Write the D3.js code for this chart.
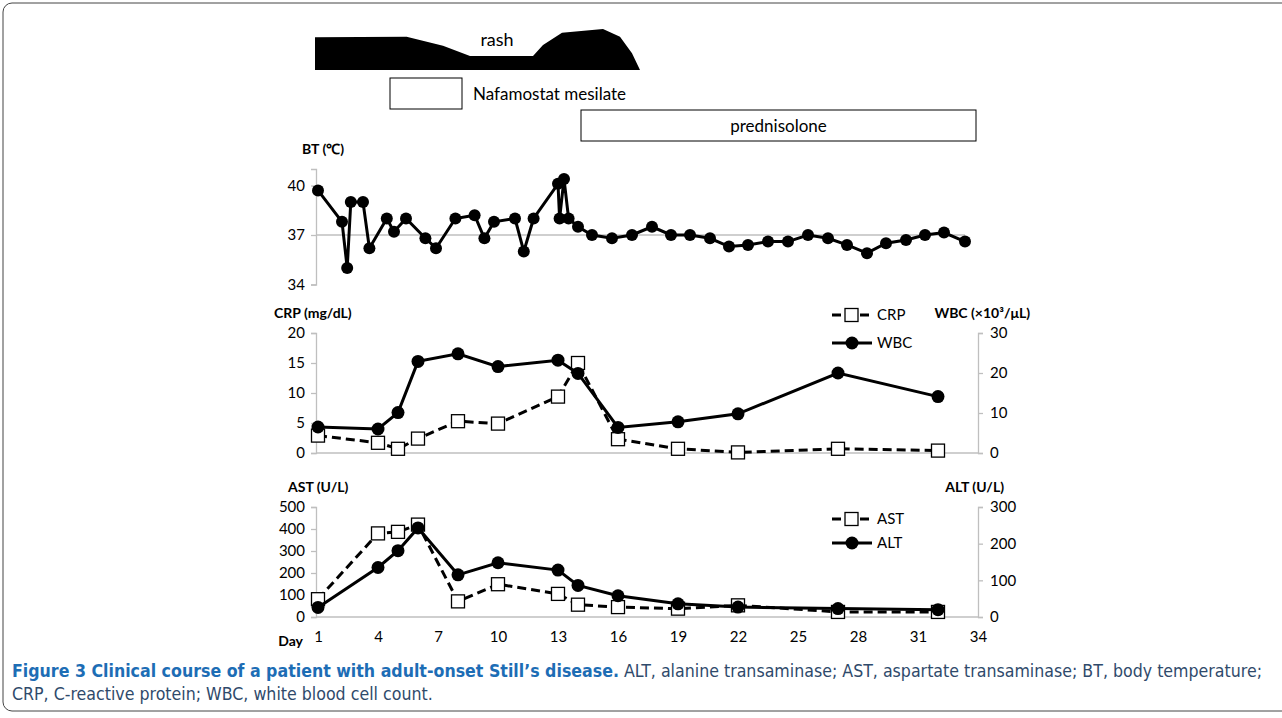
<!DOCTYPE html>
<html>
<head>
<meta charset="utf-8">
<script src="https://cdn.jsdelivr.net/npm/d3@7"></script>
<style>
  body { margin: 0; background: #fff; }
  svg { display: block; font-family: Lato, Carlito, "Open Sans", sans-serif; }
</style>
</head>
<body>
<svg id="chart" width="1282" height="718"></svg>
<script>
// ---- data ----
const dayTicks = [1, 4, 7, 10, 13, 16, 19, 22, 25, 28, 31, 34];

// rash intensity outline (day, relative level 0-10)
const rashDay   = [0.85, 0.85, 5.43, 7.25, 8.6, 11.75, 12.25, 13.2, 15.25, 16.1, 16.7, 17.1];
const rashLevel = [0, 8, 8.1, 5.9, 3.4, 3.4, 6.1, 9.1, 10, 8.1, 4.1, 0];

// treatments
const drugNames = ['Nafamostat mesilate', 'prednisolone'];
const drugStart = [4.6, 14.15];
const drugEnd   = [8.2, 33.9];

// body temperature
const btTicks = [34, 37, 40];
const btDay = [1.0, 2.2, 2.46, 2.64, 3.25, 3.57, 4.44, 4.8, 5.4, 6.37, 6.9, 7.87, 8.83, 9.32, 9.8,
  10.85, 11.29, 11.78, 13.0, 13.08, 13.3, 13.53, 14.0, 14.7, 15.7, 16.7, 17.7, 18.65, 19.6, 20.6,
  21.55, 22.5, 23.5, 24.5, 25.5, 26.5, 27.45, 28.45, 29.4, 30.4, 31.35, 32.3, 33.35];
const btTemp = [39.7, 37.8, 35.0, 39.0, 39.0, 36.2, 38.0, 37.2, 38.0, 36.8, 36.2, 38.0, 38.2, 36.8, 37.8,
  38.0, 36.0, 38.0, 40.1, 38.0, 40.4, 38.0, 37.5, 37.0, 36.8, 37.0, 37.5, 37.0, 37.0, 36.8,
  36.3, 36.4, 36.6, 36.6, 37.0, 36.8, 36.4, 35.9, 36.5, 36.7, 37.0, 37.15, 36.6];

// laboratory values
const labDay = [1, 4, 5, 6, 8, 10, 13, 14, 16, 19, 22, 27, 32];
const crp = [2.9, 1.7, 0.7, 2.4, 5.3, 4.9, 9.4, 15.0, 2.3, 0.7, 0.1, 0.7, 0.4];
const wbc = [6.5, 6.0, 10.1, 22.9, 24.8, 21.6, 23.2, 19.9, 6.4, 7.8, 9.8, 20.0, 14.1];
const ast = [81, 380, 387, 420, 71, 149, 105, 56, 45, 38, 53, 23, 23];
const alt = [26, 135, 181, 243, 115, 148, 128, 86, 58, 36, 27, 23, 20];

const crpTicks = [0, 5, 10, 15, 20];
const wbcTicks = [0, 10, 20, 30];
const astTicks = [0, 100, 200, 300, 400, 500];
const altTicks = [0, 100, 200, 300];

// ---- layout ----
const svg = d3.select('#chart');
const AXIS = '#bfbfbf';
const x = d3.scaleLinear().domain([1, 34]).range([318, 978]);
const xl = x(1) - 2, xr = x(34);

const yRash = d3.scaleLinear().domain([0, 10]).range([70, 29]);
const yBT  = d3.scaleLinear().domain([34, 41]).range([284.5, 169]);
const yCRP = d3.scaleLinear().domain([0, 20]).range([453, 333]);
const yWBC = d3.scaleLinear().domain([0, 30]).range([453, 333]);
const yAST = d3.scaleLinear().domain([0, 500]).range([617, 507]);
const yALT = d3.scaleLinear().domain([0, 300]).range([617, 507]);

// frame
svg.append('rect')
  .attr('x', 3).attr('y', 3).attr('width', 1320).attr('height', 708)
  .attr('rx', 9).attr('fill', 'none').attr('stroke', '#444').attr('stroke-width', 1);

// ---- rash + treatments ----
const rash = rashDay.map((d, i) => ({ d, v: rashLevel[i] }));
svg.append('path')
  .datum(rash)
  .attr('fill', '#000')
  .attr('d', d3.area().x(p => x(p.d)).y0(yRash(0)).y1(p => yRash(p.v)));
svg.append('text').attr('x', 497).attr('y', 46)
  .attr('text-anchor', 'middle').attr('font-size', 18).text('rash');

const boxTop = [78, 110];
drugNames.forEach((name, i) => {
  svg.append('rect')
    .attr('x', x(drugStart[i])).attr('y', boxTop[i])
    .attr('width', x(drugEnd[i]) - x(drugStart[i])).attr('height', 31)
    .attr('fill', '#fff').attr('stroke', '#000').attr('stroke-width', 1);
  const t = svg.append('text').attr('y', boxTop[i] + 22).attr('font-size', 17).text(name);
  if (i === 0) t.attr('x', x(drugEnd[i]) + 11);
  else t.attr('x', (x(drugStart[i]) + x(drugEnd[i])) / 2).attr('text-anchor', 'middle');
});

// ---- helpers ----
function styleAxis(g) {
  g.select('.domain').attr('stroke', AXIS).attr('stroke-width', 1.3);
  g.selectAll('.tick line').attr('stroke', AXIS).attr('stroke-width', 1.3);
  g.selectAll('.tick text').attr('fill', '#000').attr('font-size', 15)
    .attr('font-family', 'Lato, Carlito, sans-serif');
}
function leftAxis(scale, ticks) {
  svg.append('g').attr('transform', `translate(${xl},0)`)
    .call(d3.axisLeft(scale).tickValues(ticks).tickFormat(d3.format('d'))
      .tickSizeOuter(0).tickSize(5).tickPadding(6))
    .call(styleAxis);
}
function rightAxis(scale, ticks) {
  svg.append('g').attr('transform', `translate(${xr},0)`)
    .call(d3.axisRight(scale).tickValues(ticks).tickFormat(d3.format('d'))
      .tickSizeOuter(0).tickSize(5).tickPadding(7))
    .call(styleAxis);
}
function title(txt, xx, yy, anchor) {
  svg.append('text').attr('x', xx).attr('y', yy).attr('font-size', 14)
    .attr('font-weight', 'bold').attr('text-anchor', anchor || 'start').text(txt);
}
function series(days, vals, scale, dashed) {
  const pts = days.map((d, i) => [x(d), scale(vals[i])]);
  svg.append('path').attr('d', d3.line()(pts))
    .attr('fill', 'none').attr('stroke', '#000').attr('stroke-width', 3)
    .attr('stroke-dasharray', dashed ? '9,5' : null);
  if (dashed) {
    svg.append('g').selectAll('rect').data(pts).join('rect')
      .attr('x', p => p[0] - 6.5).attr('y', p => p[1] - 6.5)
      .attr('width', 13).attr('height', 13)
      .attr('fill', '#fff').attr('stroke', '#000').attr('stroke-width', 1.3);
  } else {
    svg.append('g').selectAll('circle').data(pts).join('circle')
      .attr('cx', p => p[0]).attr('cy', p => p[1]).attr('r', 6.5).attr('fill', '#000');
  }
}
function legendItem(label, yy, dashed) {
  const g = svg.append('g');
  g.append('line').attr('x1', 832).attr('x2', 872).attr('y1', yy).attr('y2', yy)
    .attr('stroke', '#000').attr('stroke-width', 3)
    .attr('stroke-dasharray', dashed ? '9,5' : null);
  if (dashed) {
    g.append('rect').attr('x', 845).attr('y', yy - 6.5).attr('width', 13).attr('height', 13)
      .attr('fill', '#fff').attr('stroke', '#000').attr('stroke-width', 1.3);
  } else {
    g.append('circle').attr('cx', 852).attr('cy', yy).attr('r', 6.5).attr('fill', '#000');
  }
  g.append('text').attr('x', 877).attr('y', yy + 5).attr('font-size', 15).text(label);
}

// ---- BT panel ----
title('BT (\u2103)', 302, 154);
leftAxis(yBT, btTicks);
svg.append('line')
  .attr('x1', xl).attr('x2', x(d3.max(btDay)))
  .attr('y1', yBT(37)).attr('y2', yBT(37))
  .attr('stroke', AXIS).attr('stroke-width', 1.5);
{
  const pts = btDay.map((d, i) => [x(d), yBT(btTemp[i])]);
  svg.append('path').attr('d', d3.line()(pts))
    .attr('fill', 'none').attr('stroke', '#000').attr('stroke-width', 3);
  svg.append('g').selectAll('circle').data(pts).join('circle')
    .attr('cx', p => p[0]).attr('cy', p => p[1]).attr('r', 6).attr('fill', '#000');
}

// ---- CRP / WBC panel ----
title('CRP (mg/dL)', 274, 318);
title('WBC (\u00d710\u00b3/\u03bcL)', 1030, 318, 'end');
leftAxis(yCRP, crpTicks);
rightAxis(yWBC, wbcTicks);
svg.append('line').attr('x1', xl).attr('x2', xr).attr('y1', yCRP(0)).attr('y2', yCRP(0))
  .attr('stroke', AXIS).attr('stroke-width', 1.5);
series(labDay, crp, yCRP, true);
series(labDay, wbc, yWBC, false);
legendItem('CRP', 315, true);
legendItem('WBC', 343, false);

// ---- AST / ALT panel ----
title('AST (U/L)', 288, 492);
title('ALT (U/L)', 1004, 492, 'end');
leftAxis(yAST, astTicks);
rightAxis(yALT, altTicks);
svg.append('line').attr('x1', xl).attr('x2', xr).attr('y1', yAST(0)).attr('y2', yAST(0))
  .attr('stroke', AXIS).attr('stroke-width', 1.5);
series(labDay, ast, yAST, true);
series(labDay, alt, yALT, false);
legendItem('AST', 519, true);
legendItem('ALT', 543, false);

// ---- Day axis ----
const dayAxis = svg.append('g').attr('transform', 'translate(0,627)')
  .call(d3.axisBottom(x).tickValues(dayTicks).tickSize(0).tickPadding(4));
dayAxis.select('.domain').remove();
dayAxis.selectAll('text').attr('font-size', 15).attr('fill', '#000')
  .attr('font-family', 'Lato, Carlito, sans-serif');
svg.append('text').attr('x', 303).attr('y', 646).attr('text-anchor', 'end')
  .attr('font-size', 14).attr('font-weight', 'bold').text('Day');

// ---- caption ----
const capFont = '"Liberation Sans Narrow", "DejaVu Sans Condensed", "Open Sans", sans-serif';
const cap1 = svg.append('text').attr('x', 12).attr('y', 677)
  .attr('font-family', capFont).attr('font-size', 17).attr('fill', '#2f4a6b');
cap1.append('tspan').attr('font-weight', 'bold').attr('fill', '#1d6db5')
  .text('Figure 3 Clinical course of a patient with adult-onset Still\u2019s disease.');
cap1.append('tspan').text(' ALT, alanine transaminase; AST, aspartate transaminase; BT, body temperature;');
const cap2 = svg.append('text').attr('x', 12).attr('y', 700)
  .attr('font-family', capFont).attr('font-size', 17).attr('fill', '#2f4a6b')
  .text('CRP, C-reactive protein; WBC, white blood cell count.');
const k = 1250 / cap1.node().getComputedTextLength();
cap1.attr('textLength', 1250).attr('lengthAdjust', 'spacingAndGlyphs');
cap2.attr('textLength', cap2.node().getComputedTextLength() * k).attr('lengthAdjust', 'spacingAndGlyphs');
</script>
</body>
</html>
